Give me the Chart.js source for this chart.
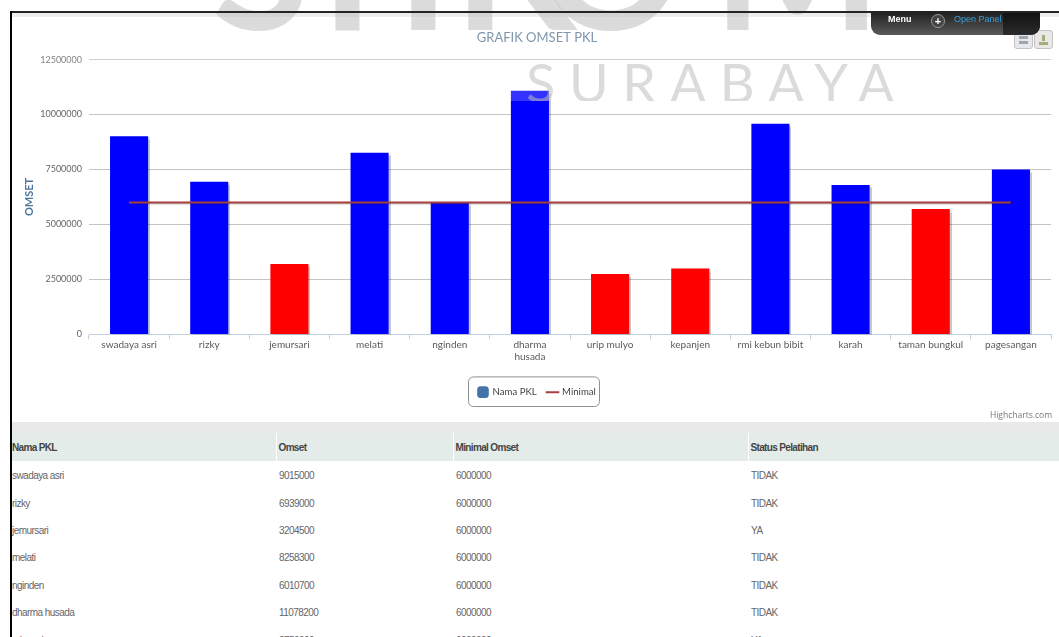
<!DOCTYPE html>
<html>
<head>
<meta charset="utf-8">
<title>Grafik Omset PKL</title>
<script src="https://cdn.jsdelivr.net/npm/chart.js@4/dist/chart.umd.min.js"></script>
<style>
    html, body { margin: 0; padding: 0; background: #fff; }
    body { width: 1059px; height: 637px; position: relative; overflow: hidden; font-family: "Liberation Sans", sans-serif; }
    #chartBox { position: absolute; left: 0; top: 0; width: 1059px; height: 422px; }
    #strip { position: absolute; left: 11px; top: 12px; right: 0; height: 5px; background: #e9e9e9; }
    #band { position: absolute; left: 11px; top: 422px; right: 0; height: 11px; background: #e9e9e9; }
    #frameTop { position: absolute; left: 10px; top: 11px; right: 0; height: 2px; background: #222; }
    #frameLeft { position: absolute; left: 10px; top: 11px; width: 2px; bottom: 0; background: #000; }

    /* marca de agua: solo cubre hasta y=101 */
    #mark { position: absolute; left: 0; top: 0; width: 1059px; height: 101px; overflow: hidden; background: rgba(255,255,255,.2); }
    #mark span { position: absolute; font-family: Lato, sans-serif; color: rgba(190,190,190,.55); white-space: nowrap; }
    #mark .big { top: -147px; font-size: 178px; font-weight: 700; line-height: 216px; }
    #markCity { left: 526px; top: 51px; font-size: 54px; letter-spacing: 13.6px; line-height: 64px; }

    #panel { position: absolute; left: 871px; top: 13px; width: 169px; height: 22px; border-radius: 0 0 9px 9px; background: linear-gradient(#222, #5a5a5a); font-size: 9px; }
    #panel div { position: absolute; }
    #panelEnd { left: 132px; top: 0; width: 37px; height: 22px; background: linear-gradient(#111, #2c2c2c); border-radius: 0 0 9px 0; }
    #panelMenu { left: 17px; top: 1px; color: #fff; font-weight: bold; }
    #panelPlus { left: 60px; top: 1px; width: 12px; height: 12px; border-radius: 7px; border: 1px solid #999; background: #444; color: #fff; font-size: 11px; font-weight: bold; line-height: 12px; text-align: center; }
    #panelOpen { left: 83px; top: 1px; color: #3a9fdc; }
    .exportBtn { position: absolute; top: 30px; width: 17px; height: 17px; border: 1px solid #c4c4c4; border-radius: 3px; background: #e8e8e8; }
    .exportBtn i { position: absolute; left: 4px; width: 9px; background: #9aa6b2; }
    #creditos { position: absolute; right: 7px; top: 409px; font: 8.5px "Open Sans", sans-serif; color: #777; }

    #tabla { position: absolute; left: 12px; top: 433px; width: 1047px; border-collapse: collapse; table-layout: fixed; font-size: 10px; letter-spacing: -.55px; color: #666; }
    #tabla th { height: 28px; padding: 0 0 0 2px; background: #e4ecea; text-align: left; color: #444; border-left: 1px solid #fff; letter-spacing: -.65px; }
    #tabla th:first-child { border-left: 0; padding-left: 0; }
    #tabla td { height: 25.4px; padding: 2px 0 0 3px; }
    #tabla td:first-child { padding-left: 0; }
</style>
</head>
<body>
<div id="strip"></div>
<div id="band"></div>
<div id="chartBox"><canvas id="chartOmset"></canvas></div>
<table id="tabla">
    <colgroup><col style="width:264px"><col style="width:177px"><col style="width:295px"><col></colgroup>
    <thead><tr id="tablaHead"></tr></thead>
    <tbody id="tablaBody"></tbody>
</table>
<div id="mark">
    <span class="big" style="left:212px">S</span>
    <span class="big" style="left:294px">T</span>
    <span class="big" style="left:397px">I</span>
    <span class="big" style="left:454px">K</span>
    <span class="big" style="left:539px">O</span>
    <span class="big" style="left:713px">M</span>
    <span id="markCity">SURABAYA</span>
</div>
<div id="frameTop"></div>
<div id="frameLeft"></div>
<div class="exportBtn" style="left:1014px"><i style="top:5px;height:3px"></i><i style="top:10px;height:3px"></i></div>
<div class="exportBtn" style="left:1034px"><i style="top:11px;height:3px;background:#a3ad7a"></i><i style="top:4px;height:6px;left:7px;width:3px;background:#a3ad7a"></i></div>
<div id="panel">
    <div id="panelEnd"></div>
    <div id="panelMenu">Menu</div>
    <div id="panelPlus">+</div>
    <div id="panelOpen">Open Panel</div>
</div>
<div id="creditos">Highcharts.com</div>

<script>
    // Datos
    const categories = ['swadaya asri', 'rizky', 'jemursari', 'melati', 'nginden', 'dharma husada', 'urip mulyo', 'kepanjen', 'rmi kebun bibit', 'karah', 'taman bungkul', 'pagesangan'];
    const omset = [9015000, 6939000, 3204500, 8258300, 6010700, 11078200, 2750000, 3000000, 9580000, 6800000, 5700000, 7500000];
    const minimal = [6000000, 6000000, 6000000, 6000000, 6000000, 6000000, 6000000, 6000000, 6000000, 6000000, 6000000, 6000000];
    const status = ['TIDAK', 'TIDAK', 'YA', 'TIDAK', 'TIDAK', 'TIDAK', 'YA'];
    const barColors = ['#0000ff', '#0000ff', '#ff0000', '#0000ff', '#0000ff', '#0000ff', '#ff0000', '#ff0000', '#0000ff', '#0000ff', '#ff0000', '#0000ff'];
    const tableHeaders = ['Nama PKL', 'Omset', 'Minimal Omset', 'Status Pelatihan'];

    const axisFont = { family: 'Lato', size: 10 };

    // Sombra ligera de las series, como en Highcharts
    const seriesShadow = {
        id: 'seriesShadow',
        beforeDatasetDraw(chart) {
            const ctx = chart.ctx;
            ctx.save();
            ctx.shadowColor = 'rgba(0,0,0,.22)';
            ctx.shadowOffsetX = 2;
            ctx.shadowOffsetY = 1;
            ctx.shadowBlur = 1;
        },
        afterDatasetDraw(chart) {
            chart.ctx.restore();
        }
    };

    // Recuadro alrededor de la leyenda, ajustado a sus elementos
    const legendBox = {
        id: 'legendBox',
        afterDraw(chart) {
            const l = chart.legend, ctx = chart.ctx;
            const boxes = l.legendHitBoxes;
            const x0 = boxes[0].left - 10;
            const x1 = boxes[boxes.length - 1].left + boxes[boxes.length - 1].width + 3;
            ctx.save();
            ctx.strokeStyle = '#909090';
            ctx.lineWidth = 1;
            ctx.beginPath();
            ctx.roundRect(Math.round(x0) + 0.5, l.top + 0.5, Math.round(x1 - x0), l.height - 1, 5);
            ctx.stroke();
            ctx.restore();
        }
    };

    new Chart(document.getElementById('chartOmset'), {
        type: 'bar',
        data: {
            labels: categories,
            datasets: [
                { type: 'line', label: 'Minimal', data: minimal, borderColor: '#a5403e', backgroundColor: '#a5403e', borderWidth: 2, pointRadius: 0, pointStyle: 'line', order: 1 },
                { label: 'Nama PKL', data: omset, backgroundColor: barColors, barPercentage: 0.475, categoryPercentage: 1, order: 2 }
            ]
        },
        options: {
            responsive: true,
            maintainAspectRatio: false,
            animation: false,
            layout: { padding: { left: 23, right: 8, top: 0, bottom: 15 } },
            plugins: {
                title: { display: true, text: 'GRAFIK OMSET PKL', color: '#5f7c98', font: { family: 'Lato', size: 13, weight: 'normal' }, padding: { top: 30, bottom: 14 } },
                tooltip: { enabled: false },
                legend: {
                    position: 'bottom',
                    labels: {
                        usePointStyle: true,
                        boxHeight: 10,
                        padding: 11,
                        color: '#444',
                        font: { family: 'Lato', size: 9.6 },
                        generateLabels() {
                            return [
                                { text: 'Nama PKL', fillStyle: '#4572a7', strokeStyle: '#4572a7', pointStyle: 'rectRounded', lineWidth: 0, fontColor: '#444' },
                                { text: 'Minimal', fillStyle: '#a5403e', strokeStyle: '#a5403e', pointStyle: 'line', lineWidth: 2, fontColor: '#444' }
                            ];
                        }
                    }
                }
            },
            scales: {
                x: {
                    afterFit(scale) { scale.height = 42; },
                    grid: { drawOnChartArea: false, drawTicks: true, tickLength: 5, color: '#c0d0e0', offset: true },
                    border: { color: '#c0d0e0', width: 1 },
                    ticks: {
                        color: '#5a5a5a',
                        font: axisFont,
                        maxRotation: 0,
                        autoSkip: false,
                        padding: -1,
                        callback(v) {
                            const s = this.getLabelForValue(v);
                            return s === 'dharma husada' ? s.split(' ') : s;
                        }
                    }
                },
                y: {
                    afterFit(scale) { scale.width = 66; },
                    min: 0,
                    max: 12500000,
                    grid: { color: '#c4c4c4', drawTicks: false },
                    border: { display: false },
                    ticks: { stepSize: 2500000, color: '#666', font: { family: 'Lato', size: 9 }, padding: 7, callback: v => String(v) },
                    title: { display: true, text: 'OMSET', color: '#4d759e', font: { family: 'Lato', size: 11, weight: 'bold' }, padding: { top: 0, bottom: 0 } }
                }
            }
        },
        plugins: [seriesShadow, legendBox]
    });

    // Tabla de abajo
    document.getElementById('tablaHead').innerHTML = tableHeaders.map(h => `<th>${h}</th>`).join('');
    let tpl = '';
    status.forEach((st, i) => {
        tpl += `<tr>
            <td>${categories[i]}</td>
            <td>${omset[i]}</td>
            <td>${minimal[i]}</td>
            <td>${st}</td>
        </tr>`;
    });
    document.getElementById('tablaBody').innerHTML = tpl;
</script>
</body>
</html>
